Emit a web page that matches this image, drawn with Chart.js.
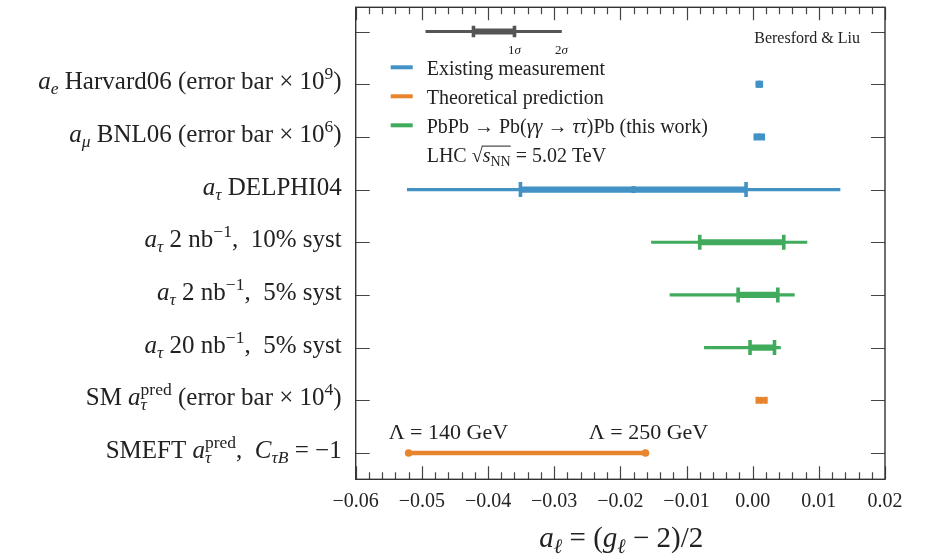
<!DOCTYPE html>
<html>
<head>
<meta charset="utf-8">
<script src="https://cdn.jsdelivr.net/npm/chart.js@4.4.1/dist/chart.umd.min.js"></script>
<style>
  html, body { margin: 0; padding: 0; background: #fff; }
  #wrap { width: 928px; height: 560px; }
</style>
</head>
<body>
<div id="wrap"><canvas id="chart" width="928" height="560"></canvas></div>
<script>
// rows, top to bottom. row 0 is the 1sigma / 2sigma key.
// $..$ toggles italic, _{..} subscript, ^{..} superscript, [..] overline
const rowLabels = [
    '',
    '$a_{e}$ Harvard06 (error bar × 10^{9})',
    '$a_{μ}$ BNL06 (error bar × 10^{6})',
    '$a_{τ}$ DELPHI04',
    '$a_{τ}$ 2 nb^{−1},  10% syst',
    '$a_{τ}$ 2 nb^{−1},  5% syst',
    '$a_{τ}$ 20 nb^{−1},  5% syst',
    'SM $a_{τ}^{$pred$}$ (error bar × 10^{4})',
    'SMEFT $a_{τ}^{$pred$}$,  $C_{τB}$ = −1'
];
const rowGroup = ['key', 'existing', 'existing', 'existing', 'lhc', 'lhc', 'lhc', 'theory', 'theory'];

// 1 sigma (thick) and 2 sigma (thin) intervals
const centre  = [null, 0.0010, 0.0010, -0.0180, null, null, null, 0.0013, null];
const innerLo = [-0.0422, 0.0007, 0.0004, -0.0351, -0.0080, -0.0022, -0.0004, 0.0007, null];
const innerHi = [-0.0360, 0.0013, 0.0016, -0.0010, 0.0047, 0.0038, 0.0033, 0.0020, null];
const outerLo = [-0.0494, null, null, -0.0522, -0.0153, -0.0125, -0.0073, null, null];
const outerHi = [-0.0289, null, null, 0.0132, 0.0082, 0.0063, 0.0042, null, null];

// SMEFT band: a_tau for Lambda = 140 GeV and 250 GeV (C_tauB = -1)
const smeftLambda = ['140', '250'];
const smeftValue = [-0.0520, -0.0162];

const xTickValues = [-0.06, -0.05, -0.04, -0.03, -0.02, -0.01, 0.00, 0.01, 0.02];

const colours = {
    key: '#555555',
    existing: '#4292c6',
    theory: '#e8842c',
    lhc: '#41ab5d'
};
const legendItems = [
    ['existing', 'Existing measurement'],
    ['theory', 'Theoretical prediction'],
    ['lhc', 'PbPb → Pb($γγ$ → $ττ$)Pb (this work)']
];

const FONT = '"Liberation Serif", "DejaVu Serif", serif';

function parseRich(str) {
    const segs = [];
    let it = false, buf = '', i = 0;
    const flush = (pos) => { if (buf) segs.push({ t: buf, it: it, pos: pos }); buf = ''; };
    while (i < str.length) {
        const c = str[i];
        if (c === '$') { flush('base'); it = !it; i++; }
        else if (c === '[' || c === ']') { flush('base'); segs.push({ mark: c }); i++; }
        else if ((c === '_' || c === '^') && str[i + 1] === '{') {
            flush('base');
            const end = str.indexOf('}', i);
            const inner = str.slice(i + 2, end);
            const pos = c === '_' ? 'sub' : 'sup';
            let sit = it, b = '';
            for (const ch of inner) {
                if (ch === '$') { if (b) segs.push({ t: b, it: sit, pos: pos }); b = ''; sit = !sit; }
                else b += ch;
            }
            if (b) segs.push({ t: b, it: sit, pos: pos });
            i = end + 1;
        } else { buf += c; i++; }
    }
    flush('base');
    return segs;
}

// lays out and draws rich text, returns width
function richText(ctx, str, x, y, size, align) {
    const segs = parseRich(str);
    const run = (x0, draw) => {
        let x = x0, prev = 'base', clStart = x0, clEnd = x0, olStart = null;
        for (const s of segs) {
            if (s.mark === '[') { olStart = x; continue; }
            if (s.mark === ']') {
                if (draw && olStart !== null) {
                    ctx.save();
                    ctx.strokeStyle = ctx.fillStyle;
                    ctx.lineWidth = 1;
                    ctx.beginPath();
                    ctx.moveTo(olStart - 1, y - size * 0.78);
                    ctx.lineTo(x, y - size * 0.78);
                    ctx.stroke();
                    ctx.restore();
                }
                continue;
            }
            const sz = s.pos === 'base' ? size : size * 0.7;
            let dy = 0;
            if (s.pos === 'sub') dy = size * 0.2;
            if (s.pos === 'sup') dy = -size * 0.4;
            if (s.pos !== 'base') {
                if (prev === 'base') { clStart = x; clEnd = x; }
                else if (prev !== s.pos) { x = clStart; }
            } else if (prev !== 'base') {
                x = clEnd;
            }
            ctx.font = (s.it ? 'italic ' : '') + sz + 'px ' + FONT;
            const w = ctx.measureText(s.t).width;
            if (draw) ctx.fillText(s.t, x, y + dy);
            x += w;
            if (s.pos !== 'base') clEnd = Math.max(clEnd, x);
            prev = s.pos;
        }
        return Math.max(x, clEnd) - x0;
    };
    ctx.save();
    ctx.textBaseline = 'alphabetic';
    ctx.textAlign = 'left';
    const w = run(0, false);
    let x0 = x;
    if (align === 'right') x0 = x - w;
    if (align === 'center') x0 = x - w / 2;
    run(x0, true);
    ctx.restore();
    return w;
}

const frameAndText = {
    id: 'frameAndText',
    beforeDatasetsDraw(chart) {
        const ctx = chart.ctx, a = chart.chartArea;
        const xs = chart.scales.x, ys = chart.scales.y;
        ctx.save();
        ctx.strokeStyle = '#444';
        ctx.lineWidth = 1.2;
        ctx.beginPath();
        // minor and major ticks along top and bottom, pointing in
        for (let k = -30; k <= 10; k++) {
            const px = Math.round(xs.getPixelForValue(k * 0.002)) + 0.5;
            const len = k % 5 === 0 ? 13 : 7;
            ctx.moveTo(px, a.bottom); ctx.lineTo(px, a.bottom - len);
            ctx.moveTo(px, a.top); ctx.lineTo(px, a.top + len);
        }
        // row ticks on both sides
        rowLabels.forEach((l, i) => {
            const py = Math.round(ys.getPixelForValue(i)) + 0.5;
            ctx.moveTo(a.left, py); ctx.lineTo(a.left + 14, py);
            ctx.moveTo(a.right, py); ctx.lineTo(a.right - 14, py);
        });
        ctx.stroke();
        ctx.strokeStyle = '#333';
        ctx.lineWidth = 1.4;
        ctx.strokeRect(a.left, a.top, a.right - a.left, a.bottom - a.top);
        ctx.restore();
    },
    afterDraw(chart) {
        const ctx = chart.ctx, a = chart.chartArea;
        const xs = chart.scales.x, ys = chart.scales.y;
        ctx.save();
        ctx.fillStyle = '#222';
        // row labels
        rowLabels.forEach((l, i) => {
            if (l) richText(ctx, l, a.left - 14, ys.getPixelForValue(i) + 5, 25, 'right');
        });
        // 1 sigma / 2 sigma key
        const ky = ys.getPixelForValue(0) + 22;
        richText(ctx, '1$σ$', xs.getPixelForValue(innerHi[0]), ky, 13, 'center');
        richText(ctx, '2$σ$', xs.getPixelForValue(outerHi[0]), ky, 13, 'center');
        richText(ctx, 'Beresford & Liu', a.right - 25, a.top + 36, 16, 'right');
        // legend
        legendItems.forEach((it, k) => {
            const by = a.top + 68 + k * 29;
            ctx.fillStyle = colours[it[0]];
            ctx.fillRect(a.left + 35, by - 10, 22, 4);
            ctx.fillStyle = '#222';
            richText(ctx, it[1], a.left + 71, by, 20, 'left');
        });
        richText(ctx, 'LHC √[$s$_{NN}] = 5.02 TeV', a.left + 71, a.top + 68 + 3 * 28.8, 20, 'left');
        // SMEFT Lambda labels
        const sy = ys.getPixelForValue(8) - 14;
        richText(ctx, 'Λ = ' + smeftLambda[0] + ' GeV', xs.getPixelForValue(smeftValue[0]) - 20, sy, 22, 'left');
        richText(ctx, 'Λ = ' + smeftLambda[1] + ' GeV', xs.getPixelForValue(smeftValue[1]) + 3, sy, 22, 'center');
        // axis title
        richText(ctx, '$a_{ℓ}$ = ($g_{ℓ}$ − 2)/2', (a.left + a.right) / 2 + 1, 547, 29, 'center');
        ctx.restore();
    }
};

const rows = rowLabels.map((l, i) => i);
const pick = (lo, hi) => rows.filter(i => lo[i] !== null).map(i => ({ x: [lo[i], hi[i]], y: i }));
const colourOf = pts => pts.map(p => colours[rowGroup[p.y]]);

const outerData = pick(outerLo, outerHi);
const innerData = pick(innerLo, innerHi);
const smeftData = [{ x: [smeftValue[0], smeftValue[1]], y: 8 }];
const capData = [];
rows.forEach(i => {
    if (innerLo[i] !== null) {
        capData.push({ x: innerLo[i], y: i });
        capData.push({ x: innerHi[i], y: i });
    }
});
const centreData = rows.filter(i => centre[i] !== null).map(i => ({ x: centre[i], y: i }));
const smeftDots = smeftValue.map(v => ({ x: v, y: 8 }));

function capRadius(ctx) {
    const r = ctx.raw ? ctx.raw.y : 0;
    if (r === 0) return 5.8;
    if (r === 1 || r === 2 || r === 7) return 3.5;
    return 7.5;
}

new Chart(document.getElementById('chart').getContext('2d'), {
    data: {
        datasets: [
            { type: 'bar', indexAxis: 'y', grouped: false, data: outerData, backgroundColor: colourOf(outerData), barThickness: 2.5, order: 5 },
            { type: 'bar', indexAxis: 'y', grouped: false, data: innerData, backgroundColor: colourOf(innerData), barThickness: 5.5, order: 4 },
            { type: 'bar', indexAxis: 'y', grouped: false, data: smeftData, backgroundColor: colours.theory, barThickness: 4, order: 3 },
            { type: 'scatter', data: capData, pointStyle: 'line', rotation: 90, radius: capRadius,
              borderWidth: 3.6, borderColor: colourOf(capData), backgroundColor: colourOf(capData), order: 2 },
            { type: 'scatter', data: centreData, pointStyle: 'circle', radius: 3.6, borderWidth: 0,
              backgroundColor: colourOf(centreData), order: 1 },
            { type: 'scatter', data: smeftDots, pointStyle: 'circle', radius: 3.8, borderWidth: 0,
              backgroundColor: colours.theory, order: 0 }
        ]
    },
    options: {
        responsive: false,
        animation: false,
        events: [],
        layout: { autoPadding: false, padding: { left: 355.7, right: 43, top: 7.3, bottom: 0.7 } },
        plugins: { legend: { display: false }, tooltip: { enabled: false } },
        scales: {
            x: {
                type: 'linear',
                min: -0.06,
                max: 0.02,
                position: 'bottom',
                grid: { display: false },
                border: { display: false },
                afterBuildTicks: s => { s.ticks = xTickValues.map(v => ({ value: v })); },
                afterFit: s => { s.height = 80; },
                ticks: {
                    color: '#222',
                    padding: 2,
                    maxRotation: 0,
                    autoSkip: false,
                    font: { family: FONT, size: 20 },
                    callback: v => (v < -1e-9 ? '−' : '') + Math.abs(v).toFixed(2)
                }
            },
            y: {
                type: 'linear',
                min: -0.46,
                max: 8.5,
                reverse: true,
                offset: false,
                display: false
            }
        }
    },
    plugins: [frameAndText]
});
</script>
</body>
</html>
